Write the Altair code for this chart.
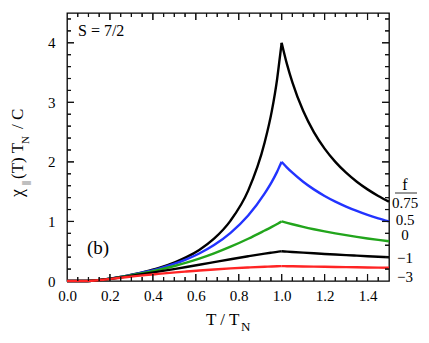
import altair as alt
import pandas as pd

# Reduced temperature T/T_N
T = [0.0, 0.078, 0.116, 0.155, 0.193, 0.229, 0.282, 0.318, 0.364, 0.425,
     0.505, 0.556, 0.616, 0.685, 0.762, 0.844, 0.921, 0.954, 0.979, 0.994,
     1.0, 1.025, 1.05, 1.1, 1.15, 1.2, 1.25, 1.3, 1.35, 1.4, 1.45, 1.5]

chi_f075 = [0.0, 0.0005, 0.0054, 0.0177, 0.0352, 0.0559, 0.0909, 0.1179, 0.1564, 0.2156,
            0.3176, 0.4003, 0.5223, 0.7107, 1.0142, 1.5174, 2.3293, 2.8520, 3.3952, 3.8279,
            4.0, 3.6364, 3.3333, 2.8571, 2.5, 2.2222, 2.0, 1.8182, 1.6667, 1.5385, 1.4286, 1.3333]
chi_f05 = [0.0, 0.0005, 0.0054, 0.0176, 0.0349, 0.0552, 0.0888, 0.1145, 0.1505, 0.2046,
           0.2942, 0.3639, 0.4620, 0.6035, 0.8090, 1.1001, 1.4721, 1.6649, 1.8364, 1.9560,
           2.0, 1.9048, 1.8182, 1.6667, 1.5385, 1.4286, 1.3333, 1.25, 1.1765, 1.1111, 1.0526, 1.0]
chi_f0 = [0.0, 0.0005, 0.0054, 0.0174, 0.0343, 0.0537, 0.0851, 0.1083, 0.1400, 0.1856,
          0.2565, 0.3079, 0.3753, 0.4636, 0.5760, 0.7097, 0.8480, 0.9086, 0.9574, 0.9889,
          1.0, 0.9756, 0.9524, 0.9091, 0.8696, 0.8333, 0.8, 0.7692, 0.7407, 0.7143, 0.6897, 0.6667]
chi_fm1 = [0.0, 0.0005, 0.0054, 0.0171, 0.0331, 0.0510, 0.0784, 0.0977, 0.1228, 0.1566,
           0.2041, 0.2354, 0.2729, 0.3168, 0.3655, 0.4151, 0.4589, 0.4761, 0.4891, 0.4972,
           0.5, 0.4938, 0.4878, 0.4762, 0.4651, 0.4545, 0.4444, 0.4348, 0.4255, 0.4167, 0.4082, 0.4]
chi_fm3 = [0.0, 0.0005, 0.0053, 0.0165, 0.0311, 0.0463, 0.0678, 0.0817, 0.0986, 0.1192,
           0.1450, 0.1601, 0.1765, 0.1939, 0.2112, 0.2268, 0.2393, 0.2439, 0.2473, 0.2493,
           0.25, 0.2484, 0.2469, 0.2439, 0.2410, 0.2381, 0.2353, 0.2326, 0.2299, 0.2273, 0.2247, 0.2222]

f_labels = ["0.75", "0.5", "0", "\u22121", "\u22123"]
f_colors = ["#000000", "#2233ff", "#22a51c", "#000000", "#ff2424"]
label_y = [1.307, 1.030, 0.771, 0.385, 0.067]

x_tick_labels = [0.0, 0.2, 0.4, 0.6, 0.8, 1.0, 1.2, 1.4]
y_tick_labels = [0, 1, 2, 3, 4]
x_major = [0.2, 0.4, 0.6, 0.8, 1.0, 1.2, 1.4]
x_minor = [0.05, 0.1, 0.15, 0.25, 0.3, 0.35, 0.45, 0.5, 0.55, 0.65, 0.7, 0.75,
           0.85, 0.9, 0.95, 1.05, 1.1, 1.15, 1.25, 1.3, 1.35, 1.45]
y_major = [1, 2, 3, 4]
y_minor = [0.2, 0.4, 0.6, 0.8, 1.2, 1.4, 1.6, 1.8, 2.2, 2.4, 2.6, 2.8,
           3.2, 3.4, 3.6, 3.8, 4.2, 4.4]

W, H = 322, 268
FONT = "Liberation Serif"
XMAX, YMAX = 1.5, 4.5
TICK_COLOR = "#111111"

series = [chi_f075, chi_f05, chi_f0, chi_fm1, chi_fm3]
rows = []
for lab, vals in zip(f_labels, series):
    for t, v in zip(T, vals):
        if t <= 1.0:
            rows.append(dict(t=t, chi=v, f=lab, seg="below"))
        if t >= 1.0:
            rows.append(dict(t=t, chi=v, f=lab, seg="above"))
df = pd.DataFrame(rows)

xs = alt.Scale(domain=[0, XMAX], nice=False, zero=False)
ys = alt.Scale(domain=[0, YMAX], nice=False, zero=False)

x_axis = alt.Axis(values=x_tick_labels, format=".1f", title=None, ticks=False, tickSize=0,
                  domain=False, grid=False, labelPadding=7, labelFontSize=15, labelFont=FONT,
                  labelColor="black", labelFlush=False, labelOverlap=False)
y_axis = alt.Axis(values=y_tick_labels, format="d", title=None, ticks=False, tickSize=0,
                  domain=False, grid=False, labelPadding=12, labelFontSize=15, labelFont=FONT,
                  labelColor="black", labelFlush=False, labelOverlap=False)

lines = alt.Chart(df).mark_line(strokeWidth=2.4, interpolate="monotone").encode(
    x=alt.X("t:Q", scale=xs, axis=x_axis),
    y=alt.Y("chi:Q", scale=ys, axis=y_axis),
    color=alt.Color("f:N", scale=alt.Scale(domain=f_labels, range=f_colors), legend=None),
    detail="seg:N",
)

# inward tick marks on all four sides, placed through the shared scales
trows = []
for vals, L in ((x_major, 7), (x_minor, 4)):
    dl = L / H * YMAX
    for v in vals:
        trows.append(dict(tx=v, tx2=v, ty=0.0, ty2=dl))
        trows.append(dict(tx=v, tx2=v, ty=YMAX, ty2=YMAX - dl))
for vals, L in ((y_major, 7), (y_minor, 4)):
    dl = L / W * XMAX
    for v in vals:
        trows.append(dict(tx=0.0, tx2=dl, ty=v, ty2=v))
        trows.append(dict(tx=XMAX, tx2=XMAX - dl, ty=v, ty2=v))
tdf = pd.DataFrame(trows)

tick_marks = alt.Chart(tdf).mark_rule(color=TICK_COLOR, strokeWidth=1.2).encode(
    x=alt.X("tx:Q", scale=xs, axis=x_axis), x2="tx2:Q",
    y=alt.Y("ty:Q", scale=ys, axis=y_axis), y2="ty2:Q")

# same ticks as single-rule layers (pixel positions derived from the tick lists)
one = pd.DataFrame({"a": [0]})
tick_layers = []
for vals, L in ((x_major, 7), (x_minor, 4)):
    for v in vals:
        px = v / XMAX * W
        for y0, y1 in ((H, H - L), (0, L)):
            tick_layers.append(alt.Chart(one).mark_rule(color=TICK_COLOR, strokeWidth=1).encode(
                x=alt.value(px), x2=alt.value(px), y=alt.value(y0), y2=alt.value(y1)))
for vals, L in ((y_major, 7), (y_minor, 4)):
    for v in vals:
        py = H - v / YMAX * H
        for x0, x1 in ((0, L), (W, W - L)):
            tick_layers.append(alt.Chart(one).mark_rule(color=TICK_COLOR, strokeWidth=1).encode(
                x=alt.value(x0), x2=alt.value(x1), y=alt.value(py), y2=alt.value(py)))


def txt(s, x, y, size, align="left", angle=0, baseline="alphabetic"):
    d = pd.DataFrame({"s": [s]})
    kw = dict(font=FONT, fontSize=size, align=align, baseline=baseline, color="black")
    if angle:
        kw["angle"] = angle
    return alt.Chart(d).mark_text(**kw).encode(
        x=alt.value(x), y=alt.value(y), text="s:N")


texts = [
    txt("S = 7/2", 11, 23, 16),
    txt("(b)", 31, 241, 19, align="center"),
    # x title
    txt("T / T", 139, 312, 17),
    txt("N", 174, 318, 13),
    # y title (rotated)
    txt("\u03c7", -44, 184, 18, angle=270),
    txt("||", -38, 172, 10, angle=270),
    txt("(T) T", -44, 166, 17, angle=270),
    txt("N", -38, 131, 11, angle=270),
    txt("/ C", -44, 116, 17, angle=270),
    # legend header
    txt("f", 338, 177, 16, align="center"),
]

underline = alt.Chart(pd.DataFrame({"a": [0]})).mark_rule(color="#333333", strokeWidth=1).encode(
    x=alt.value(328), x2=alt.value(350), y=alt.value(180))

lab_df = pd.DataFrame({"lab": f_labels, "ly": label_y})
labels = alt.Chart(lab_df).mark_text(font=FONT, fontSize=15, align="center",
                                      baseline="middle", color="black").encode(
    x=alt.value(338), y=alt.Y("ly:Q", scale=ys, axis=y_axis), text="lab:N")

chart = alt.layer(lines, *texts, underline, labels, tick_marks, *tick_layers).properties(
    width=W, height=H,
    autosize=alt.AutoSizeParams(type="none"),
    padding={"left": 59, "top": 5, "right": 32, "bottom": 54},
).configure_view(stroke="black", strokeWidth=1.3)

chart.save("out.html", embed_options={"renderer": "svg", "actions": False})
